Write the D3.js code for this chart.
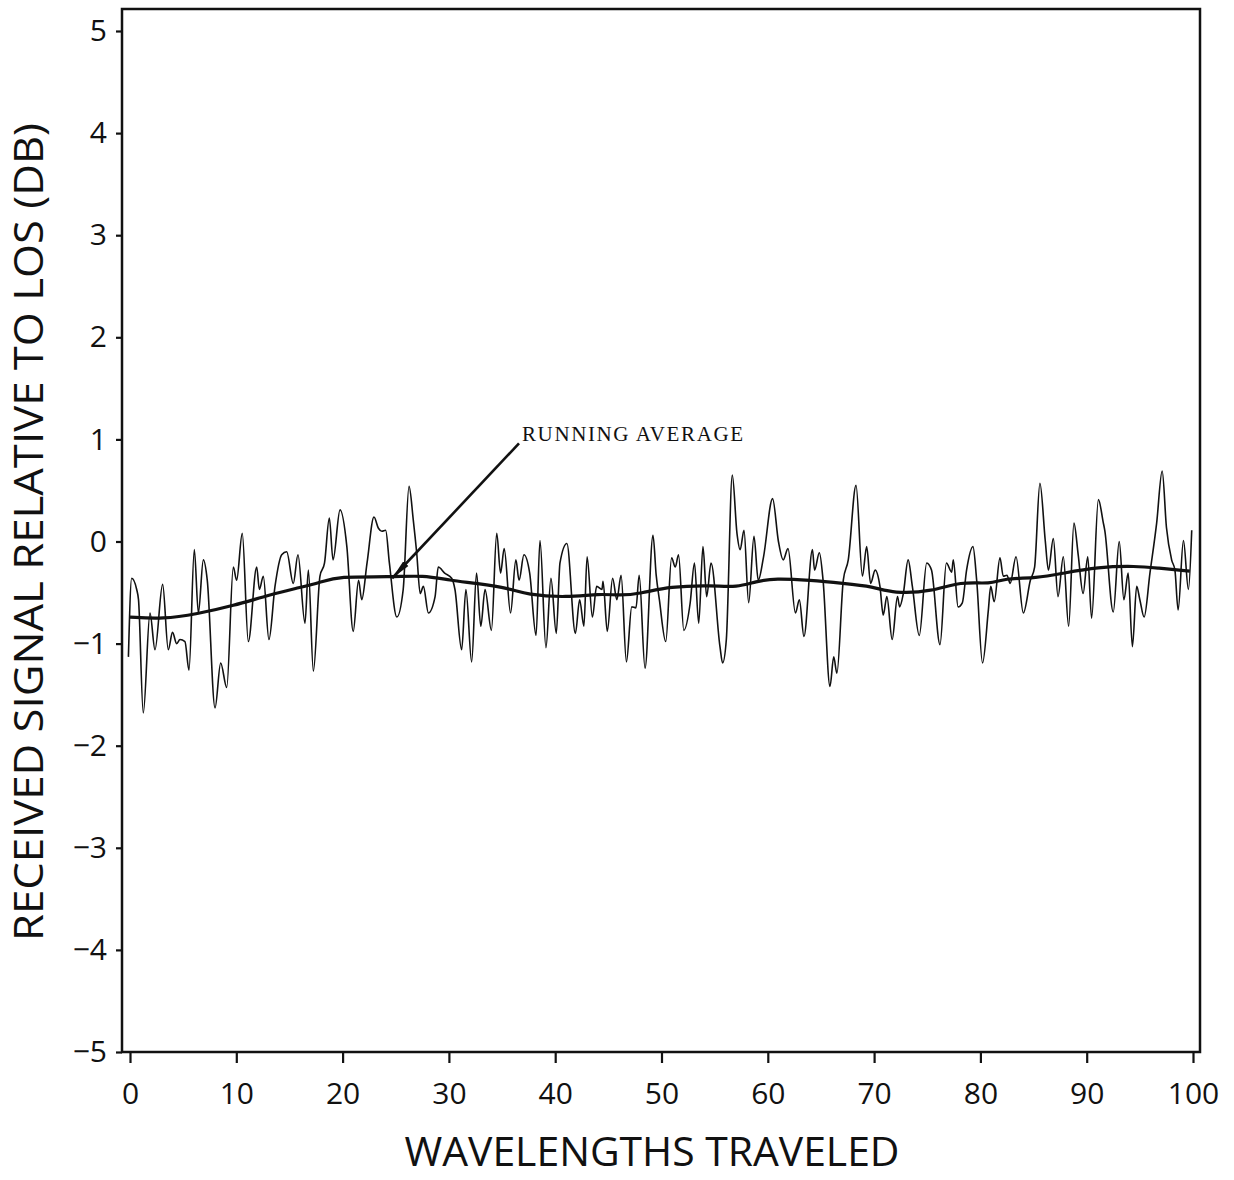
<!DOCTYPE html>
<html>
<head>
<meta charset="utf-8">
<script src="https://cdn.jsdelivr.net/npm/d3@7"></script>
<style>
  body { margin: 0; background: #fff; }
  svg { display: block; }
</style>
</head>
<body>
<svg id="chart"></svg>
<script>
// received signal (wavelengths, dB)
const sigX = [-0.15,0.16,0.63,0.8,1.25,1.88,2.35,3.07,3.6,4.0,4.39,4.7,5.17,5.55,6.05,6.43,6.9,7.27,8.0,8.53,9.1,9.72,10.03,10.56,11.13,11.92,12.17,12.54,13.07,13.64,14.27,14.74,15.36,15.8,16.46,16.78,17.25,17.87,18.3,18.75,19.1,19.76,20.4,21.0,21.5,21.8,22.3,22.95,23.37,23.7,24.05,24.4,25.1,25.7,26.25,26.65,26.97,27.3,27.6,28.07,28.7,29.0,29.6,30.26,30.57,31.2,31.6,32.14,32.6,33.0,33.4,34.0,34.5,34.86,35.2,35.8,36.3,36.6,37.06,37.6,38.2,38.57,39.13,39.6,40.1,40.45,41.1,41.9,42.3,42.7,43.0,43.5,43.9,44.4,44.5,44.9,45.4,45.8,46.2,46.7,47.2,47.6,47.9,48.45,49.2,49.5,49.8,50.4,50.95,51.3,51.6,52.1,52.7,53.1,53.5,53.9,54.25,54.66,55.5,55.75,56.1,56.66,57.1,57.4,57.76,58.2,58.7,59.1,59.6,60.45,61.0,61.45,61.9,62.6,62.97,63.4,64.2,64.4,64.85,65.2,65.85,66.2,66.5,67.1,67.57,68.3,68.9,69.3,69.67,70.1,70.55,70.86,71.2,71.7,72.2,72.4,72.75,73.2,73.6,74.25,74.95,75.4,76.2,76.8,77.3,77.45,77.9,78.3,78.7,79.3,79.65,80.2,80.75,80.97,81.3,81.84,82.15,82.5,82.8,83.35,84.04,84.7,85.1,85.6,86.1,86.4,86.86,87.3,87.8,88.3,88.8,89.2,89.66,90.1,90.46,91.1,91.55,91.7,92.5,93.06,93.5,93.9,94.3,94.7,95.0,95.4,95.95,96.58,97.1,97.5,97.99,98.3,98.6,99.1,99.57,99.88];
const sigY = [-1.13,-0.36,-0.47,-0.57,-1.68,-0.70,-1.06,-0.42,-1.06,-0.89,-1.0,-0.96,-0.98,-1.26,-0.08,-0.70,-0.18,-0.38,-1.63,-1.19,-1.43,-0.25,-0.38,0.08,-0.98,-0.25,-0.47,-0.34,-0.96,-0.44,-0.13,-0.10,-0.41,-0.13,-0.80,-0.28,-1.27,-0.34,-0.21,0.23,-0.18,0.31,-0.05,-0.88,-0.38,-0.57,-0.21,0.24,0.13,0.10,0.11,-0.21,-0.74,-0.47,0.54,0.21,-0.11,-0.51,-0.44,-0.70,-0.54,-0.25,-0.31,-0.36,-0.47,-1.06,-0.47,-1.18,-0.31,-0.83,-0.47,-0.87,0.08,-0.31,-0.07,-0.70,-0.18,-0.38,-0.13,-0.31,-0.92,0.01,-1.04,-0.36,-0.90,-0.21,-0.02,-0.90,-0.57,-0.83,-0.15,-0.74,-0.44,-0.47,-0.39,-0.88,-0.36,-0.57,-0.33,-1.18,-0.64,-0.65,-0.33,-1.24,0.06,-0.33,-0.57,-0.98,-0.16,-0.25,-0.13,-0.87,-0.60,-0.21,-0.80,-0.05,-0.54,-0.21,-1.03,-1.19,-0.96,0.65,0.08,-0.08,0.11,-0.60,0.05,-0.38,-0.15,0.42,0.0,-0.18,-0.07,-0.70,-0.57,-0.93,-0.08,-0.28,-0.11,-0.38,-1.42,-1.13,-1.29,-0.38,-0.18,0.55,-0.34,-0.05,-0.41,-0.28,-0.44,-0.72,-0.54,-0.96,-0.54,-0.64,-0.51,-0.18,-0.44,-0.92,-0.21,-0.28,-1.01,-0.21,-0.30,-0.18,-0.64,-0.60,-0.28,-0.05,-0.38,-1.19,-0.67,-0.44,-0.59,-0.16,-0.34,-0.33,-0.41,-0.15,-0.70,-0.38,-0.25,0.57,0.01,-0.28,0.03,-0.54,-0.15,-0.83,0.18,-0.13,-0.51,-0.15,-0.75,0.41,0.19,0.11,-0.69,0.0,-0.57,-0.31,-1.03,-0.44,-0.57,-0.74,-0.31,0.18,0.69,0.14,-0.18,-0.28,-0.67,0.01,-0.47,0.11];

// running average
const avgX = [0,3.1,6.3,9.7,13.2,16,17.9,19.6,24.5,27.6,30.1,32.6,35.75,37.3,41.1,44.2,46.1,48,50.8,54.8,57.1,58.9,60.7,64,67.1,69.9,71.8,75.5,78.1,81,82.2,85.3,87.8,91,94.7,96.6,99.7];
const avgY = [-0.74,-0.76,-0.71,-0.63,-0.52,-0.45,-0.40,-0.34,-0.35,-0.33,-0.38,-0.41,-0.46,-0.52,-0.55,-0.51,-0.53,-0.51,-0.44,-0.43,-0.45,-0.39,-0.36,-0.38,-0.41,-0.44,-0.51,-0.49,-0.39,-0.42,-0.36,-0.36,-0.31,-0.25,-0.24,-0.26,-0.29];

const xTicks = [0,10,20,30,40,50,60,70,80,90,100];
const yTicks = [-5,-4,-3,-2,-1,0,1,2,3,4,5];

// annotation (data units): label anchor and arrow tip
const noteText = "RUNNING AVERAGE";
const noteAt = [36.5, 1.0];
const noteTip = [24.66, -0.36];

const width = 1234, height = 1180;
const frame = { left: 122, right: 1200, top: 9, bottom: 1052 };
const sans = "Open Sans, DejaVu Sans, sans-serif";

const svg = d3.select("#chart").attr("width", width).attr("height", height);

const x = d3.scaleLinear().domain([0, 100]).range([130, 1193]);
const y = d3.scaleLinear().domain([-5, 5]).range([1052, 31]);

// frame
svg.append("rect")
   .attr("x", frame.left).attr("y", frame.top)
   .attr("width", frame.right - frame.left).attr("height", frame.bottom - frame.top)
   .attr("fill", "none").attr("stroke", "#111").attr("stroke-width", 2.5);

// axes
const gx = svg.append("g").attr("transform", `translate(0,${frame.bottom})`)
   .call(d3.axisBottom(x).tickValues(xTicks).tickSize(11).tickPadding(20));
const gy = svg.append("g").attr("transform", `translate(${frame.left},0)`)
   .call(d3.axisLeft(y).tickValues(yTicks).tickSize(6).tickPadding(9));

[gx, gy].forEach(g => {
    g.select(".domain").remove();
    g.selectAll("line").attr("stroke", "#111").attr("stroke-width", 2.2);
    g.selectAll("text").attr("font-family", sans)
     .attr("font-size", "30px").attr("fill", "#111");
});

// signal + running average
const line = d3.line().x(d => x(d[0])).y(d => y(d[1])).curve(d3.curveMonotoneX);

svg.append("path").datum(d3.zip(sigX, sigY))
   .attr("d", line).attr("fill", "none").attr("stroke", "#111")
   .attr("stroke-width", 1.6).attr("stroke-linejoin", "round");

svg.append("path").datum(d3.zip(avgX, avgY))
   .attr("d", line.curve(d3.curveBasis)).attr("fill", "none").attr("stroke", "#111")
   .attr("stroke-width", 3.2);

// arrow + label
svg.append("defs").append("marker")
   .attr("id", "head").attr("viewBox", "0 0 20 10").attr("refX", 20).attr("refY", 5)
   .attr("markerWidth", 20).attr("markerHeight", 10).attr("markerUnits", "userSpaceOnUse")
   .attr("orient", "auto")
   .append("path").attr("d", "M0,1.5 L20,5 L0,8.5 Z").attr("fill", "#111");

svg.append("line")
   .attr("x1", x(noteAt[0]) + 1).attr("y1", y(noteAt[1]) + 4)
   .attr("x2", x(noteTip[0])).attr("y2", y(noteTip[1]))
   .attr("stroke", "#111").attr("stroke-width", 2.6)
   .attr("marker-end", "url(#head)");

svg.append("text")
   .attr("x", x(noteAt[0]) + 4).attr("y", y(noteAt[1]) + 2)
   .attr("font-family", "Liberation Serif, serif")
   .attr("font-size", "21px").attr("fill", "#111")
   .attr("textLength", 221).attr("lengthAdjust", "spacing")
   .text(noteText);

// axis titles
svg.append("text")
   .attr("x", 652).attr("y", 1166).attr("text-anchor", "middle")
   .attr("font-family", sans).attr("font-size", "40px")
   .attr("textLength", 495).attr("lengthAdjust", "spacingAndGlyphs")
   .attr("fill", "#111")
   .text("WAVELENGTHS TRAVELED");

svg.append("text")
   .attr("transform", "translate(43,532) rotate(-90)").attr("text-anchor", "middle")
   .attr("font-family", sans).attr("font-size", "40px")
   .attr("textLength", 818).attr("lengthAdjust", "spacingAndGlyphs")
   .attr("fill", "#111")
   .text("RECEIVED SIGNAL RELATIVE TO LOS (DB)");
</script>
</body>
</html>
